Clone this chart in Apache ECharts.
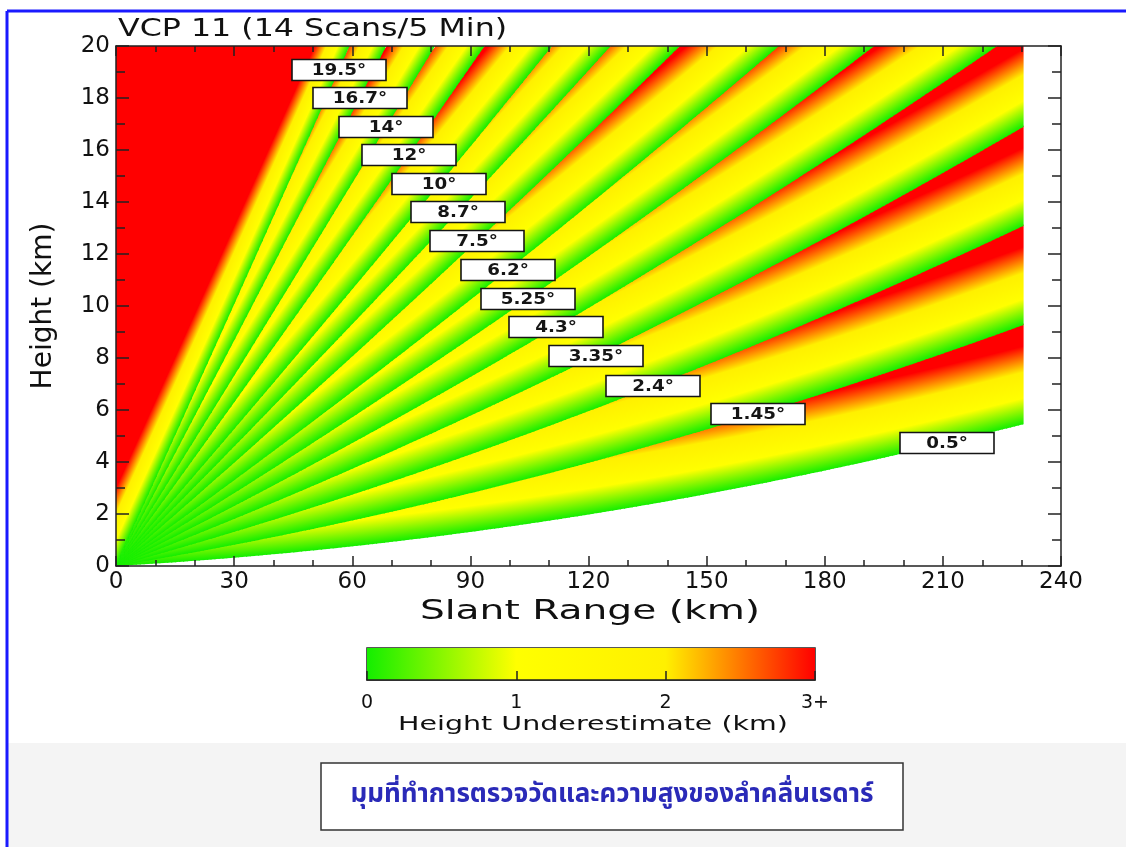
<!DOCTYPE html>
<html><head><meta charset="utf-8">
<script src="https://cdn.jsdelivr.net/npm/echarts@6/dist/echarts.min.js"></script>
<style>html,body{margin:0;padding:0;background:#fff;}#c{width:1126px;height:847px;}</style>
</head><body><div id="c"></div>
<script>
// ---- data ----
const beamAngles = [0.5, 1.45, 2.4, 3.35, 4.3, 5.25, 6.2, 7.5, 8.7, 10, 12, 14, 16.7, 19.5]; // degrees (VCP 11)
const labelHeights = [4.73, 5.85, 6.92, 8.08, 9.19, 10.27, 11.38, 12.5, 13.62, 14.69, 15.81, 16.88, 18.0, 19.08]; // km, where each angle tag sits on its beam
const maxSlantRange = 230.5;        // km, end of coverage
const xAxisMax = 240, xInterval = 30;
const yAxisMax = 20, yInterval = 2;
const underestimateStops = [0, 1, 2, 3];                       // km
const underestimateColors = ['#14ee00', '#ffff00', '#fff000', '#ff0000'];
const colorbarLabels = ['0', '1', '2', '3+'];
const titleText = 'VCP 11 (14 Scans/5 Min)';
const xName = 'Slant Range (km)';
const yName = 'Height (km)';
const cbName = 'Height Underestimate (km)';
const captionText = 'มุมที่ทำการตรวจวัดและความสูงของลำคลื่นเรดาร์';

// ---- beam geometry (standard 1.21 effective earth radius) ----
const RE = 1.21 * 6371;
const rad = d => d * Math.PI / 180;
function beamH(r, deg) { const s = Math.sin(rad(deg)); return Math.sqrt(r * r + RE * RE + 2 * r * RE * s) - RE; }
function beamSlope(r, deg) { const s = Math.sin(rad(deg)); return (r + RE * s) / (beamH(r, deg) + RE); }
function rangeAt(h, deg) { const s = Math.sin(rad(deg)); return Math.sqrt(RE * RE * s * s + h * h + 2 * h * RE) - RE * s; }

const uMax = underestimateStops[underestimateStops.length - 1];
const gradStops = underestimateStops.map((v, i) => ({ offset: v / uMax, color: underestimateColors[i] }));

function renderGap(params, api) {
  const i = api.value(0);
  const a = beamAngles[i];
  const b = i + 1 < beamAngles.length ? beamAngles[i + 1] : null;
  const o = api.coord([0, 0]), q = api.coord([1, 1]);
  const kx = q[0] - o[0], ky = o[1] - q[1];
  const top = yAxisMax;
  const lo = r => Math.min(beamH(r, a), top);
  const upRaw = r => b === null ? Infinity : beamH(r, b);
  const eps = 0.05;
  const up = r => Math.min(upRaw(r) + eps, top);
  const edges = [];
  for (let r = 0; r < maxSlantRange; r += 1) edges.push(r);
  edges.push(maxSlantRange);
  const rcA = rangeAt(top, a);
  if (rcA < maxSlantRange) edges.push(rcA);
  if (b !== null) { const rcB = rangeAt(top, b); if (rcB < maxSlantRange) edges.push(rcB); }
  edges.sort((x, y) => x - y);
  const endR = Math.min(maxSlantRange, rcA);
  const children = [];
  for (let k = 0; k < edges.length - 1; k++) {
    const r0 = edges[k], r1 = edges[k + 1];
    if (r0 >= endR) break;
    if (r1 - r0 < 1e-6) continue;
    const r1e = Math.min(r1 + 0.3, endR);
    const pts = [
      api.coord([r0, lo(r0)]),
      api.coord([r1e, lo(r1e)]),
      api.coord([r1e, up(r1e)]),
      api.coord([r0, up(r0)])
    ];
    const rm = (r0 + Math.min(r1, endR)) / 2;
    const S = api.coord([rm, beamH(rm, a)]);
    const s = beamSlope(rm, a);
    const gx = -s / kx, gy = -1 / ky;
    const g2 = gx * gx + gy * gy;
    const E = [S[0] + gx * uMax / g2, S[1] + gy * uMax / g2];
    children.push({
      type: 'polygon', silent: true,
      shape: { points: pts },
      style: { fill: { type: 'linear', x: S[0], y: S[1], x2: E[0], y2: E[1], global: true, colorStops: gradStops } }
    });
  }
  return { type: 'group', z2: i, children };
}

function renderTag(params, api) {
  const c = api.coord([api.value(0), api.value(1)]);
  const w = 94, h = 21;
  return {
    type: 'group', x: Math.round(c[0]), y: Math.round(c[1]), children: [
      { type: 'rect', shape: { x: -w / 2, y: -h / 2, width: w, height: h },
        style: { fill: '#ffffff', stroke: '#151515', lineWidth: 1.6 } },
      { type: 'text', x: 0, y: 1, scaleX: 1.22,
        style: { text: api.value(2) + '°', align: 'center', verticalAlign: 'middle', fontSize: 15, fontWeight: 'bold', fill: '#151515', fontFamily: 'DejaVu Sans, sans-serif' } }
    ]
  };
}

function renderColorbar(params, api) {
  const p0 = api.coord([underestimateStops[0], 0]);
  const p1 = api.coord([uMax, 1]);
  return {
    type: 'rect', silent: true,
    shape: { x: p0[0], y: p1[1], width: p1[0] - p0[0], height: p0[1] - p1[1] },
    style: { fill: { type: 'linear', x: 0, y: 0, x2: 1, y2: 0, colorStops: gradStops } }
  };
}

const axisColor = '#222';
const lineS = { color: axisColor, width: 1.5 };
const fontFam = 'DejaVu Sans, sans-serif';

const chart = echarts.init(document.getElementById('c'), null, { renderer: 'canvas' });
chart.setOption({
  animation: false,
  backgroundColor: '#ffffff',
  textStyle: { fontFamily: fontFam },
  graphic: [
    { type: 'rect', silent: true, z: -10, shape: { x: 8, y: 743, width: 1118, height: 104 }, style: { fill: '#f4f4f4' } },
    { type: 'line', silent: true, shape: { x1: 7, y1: 11, x2: 1126, y2: 11 }, style: { stroke: '#1a1aff', lineWidth: 3 } },
    { type: 'line', silent: true, shape: { x1: 7, y1: 11, x2: 7, y2: 847 }, style: { stroke: '#1a1aff', lineWidth: 3 } },
    // title and axis names (wide, letter-spaced look of the original)
    { type: 'text', silent: true, x: 118, y: 30, scaleX: 1.32,
      style: { text: titleText, align: 'left', verticalAlign: 'middle', fontSize: 24, fill: '#111', fontFamily: fontFam } },
    { type: 'text', silent: true, x: 590, y: 612, scaleX: 1.45,
      style: { text: xName, align: 'center', verticalAlign: 'middle', fontSize: 27, fill: '#111', fontFamily: fontFam } },
    { type: 'text', silent: true, x: 593, y: 725, scaleX: 1.5,
      style: { text: cbName, align: 'center', verticalAlign: 'middle', fontSize: 19, fill: '#111', fontFamily: fontFam } },
    // caption
    { type: 'rect', silent: true, shape: { x: 321, y: 763, width: 582, height: 67 }, style: { fill: '#ffffff', stroke: '#333', lineWidth: 1.5 } },
    { type: 'text', silent: true, x: 612, y: 797, style: { text: captionText, align: 'center', verticalAlign: 'middle', fontSize: 26, fontWeight: 'bold', fill: '#2a2ab8', fontFamily: "'Noto Sans Thai', 'Noto Sans', 'DejaVu Sans', sans-serif" } }
  ],
  grid: [
    { left: 116, top: 46, width: 945, height: 520, show: false },
    { left: 367, top: 648, width: 448, height: 32, show: true, borderColor: '#222', borderWidth: 1.5, backgroundColor: 'transparent' }
  ],
  xAxis: [
    { gridIndex: 0, type: 'value', min: 0, max: xAxisMax, interval: xInterval, position: 'bottom', z: 5,
      axisLine: { show: true, onZero: false, lineStyle: lineS },
      axisTick: { show: true, inside: true, length: 10, lineStyle: lineS },
      minorTick: { show: true, splitNumber: 3, length: 6, lineStyle: lineS },
      axisLabel: { fontSize: 23, color: '#111', margin: 5 },
      splitLine: { show: false } },
    { gridIndex: 0, type: 'value', min: 0, max: xAxisMax, interval: xInterval, position: 'top', z: 5,
      axisLine: { show: true, onZero: false, lineStyle: lineS },
      axisTick: { show: true, inside: true, length: 10, lineStyle: lineS },
      minorTick: { show: true, splitNumber: 3, length: 6, lineStyle: lineS },
      axisLabel: { show: false }, splitLine: { show: false } },
    { gridIndex: 1, type: 'value', min: 0, max: uMax, interval: 1, position: 'bottom', z: 5,
      axisLine: { show: true, lineStyle: lineS },
      axisTick: { show: true, inside: true, length: 9, lineStyle: lineS },
      axisLabel: { fontSize: 19, color: '#111', margin: 14, formatter: v => colorbarLabels[Math.round(v)] },
      splitLine: { show: false } }
  ],
  yAxis: [
    { gridIndex: 0, type: 'value', min: 0, max: yAxisMax, interval: yInterval, position: 'left', z: 5,
      axisLine: { show: true, onZero: false, lineStyle: lineS },
      axisTick: { show: true, inside: true, length: 13, lineStyle: lineS },
      minorTick: { show: true, splitNumber: 2, length: 9, lineStyle: lineS },
      axisLabel: { fontSize: 23, color: '#111', margin: 6 },
      splitLine: { show: false },
      name: yName, nameLocation: 'middle', nameGap: 58, nameTextStyle: { fontSize: 28, color: '#111' } },
    { gridIndex: 0, type: 'value', min: 0, max: yAxisMax, interval: yInterval, position: 'right', z: 5,
      axisLine: { show: true, onZero: false, lineStyle: lineS },
      axisTick: { show: true, inside: true, length: 13, lineStyle: lineS },
      minorTick: { show: true, splitNumber: 2, length: 9, lineStyle: lineS },
      axisLabel: { show: false }, splitLine: { show: false } },
    { gridIndex: 1, type: 'value', min: 0, max: 1, show: false }
  ],
  series: [
    { type: 'custom', name: 'field', xAxisIndex: 0, yAxisIndex: 0, z: 2, silent: true,
      renderItem: renderGap, encode: { x: 0, y: 1 },
      data: beamAngles.map((a, i) => [i, 0]) },
    { type: 'custom', name: 'tags', xAxisIndex: 0, yAxisIndex: 0, z: 10, silent: true,
      renderItem: renderTag, encode: { x: 0, y: 1 },
      data: beamAngles.map((a, i) => [rangeAt(labelHeights[i], a), labelHeights[i], a]) },
    { type: 'custom', name: 'colorbar', xAxisIndex: 2, yAxisIndex: 2, z: 2, silent: true,
      renderItem: renderColorbar, encode: { x: 0, y: 1 }, data: [[0, 0]] }
  ]
});
</script></body></html>
